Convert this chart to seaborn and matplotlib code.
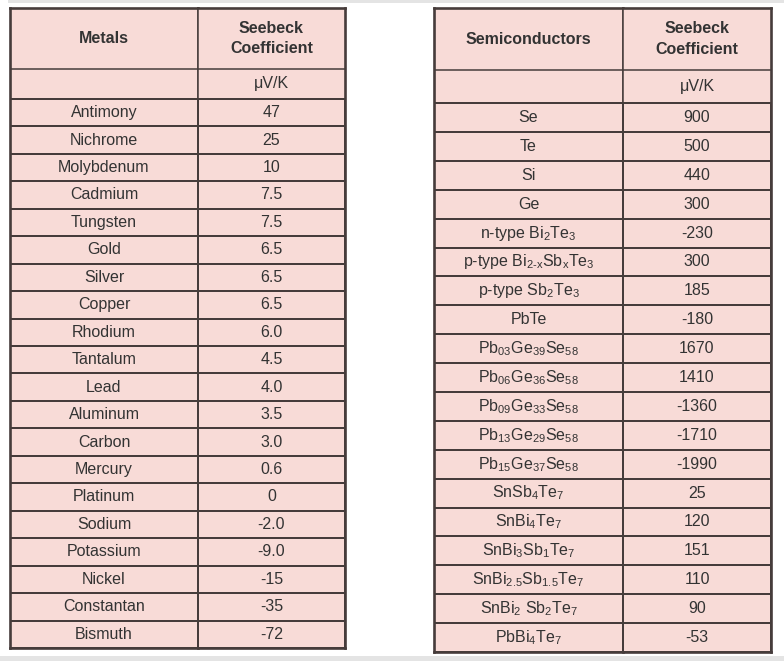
import numpy as np
import seaborn as sns
import matplotlib.pyplot as plt
from matplotlib.colors import ListedColormap
from matplotlib.patches import Rectangle

# table contents
metals = ["Antimony", "Nichrome", "Molybdenum", "Cadmium", "Tungsten", "Gold",
          "Silver", "Copper", "Rhodium", "Tantalum", "Lead", "Aluminum", "Carbon",
          "Mercury", "Platinum", "Sodium", "Potassium", "Nickel", "Constantan", "Bismuth"]
metal_seebeck = ["47", "25", "10", "7.5", "7.5", "6.5", "6.5", "6.5", "6.0", "4.5",
                 "4.0", "3.5", "3.0", "0.6", "0", "-2.0", "-9.0", "-15", "-35", "-72"]

semis = ["Se", "Te", "Si", "Ge",
         r"n-type Bi$_2$Te$_3$",
         r"p-type Bi$_{\mathrm{2\text{-}x}}$Sb$_{\mathrm{x}}$Te$_3$",
         r"p-type Sb$_2$Te$_3$",
         "PbTe",
         r"Pb$_{03}$Ge$_{39}$Se$_{58}$",
         r"Pb$_{06}$Ge$_{36}$Se$_{58}$",
         r"Pb$_{09}$Ge$_{33}$Se$_{58}$",
         r"Pb$_{13}$Ge$_{29}$Se$_{58}$",
         r"Pb$_{15}$Ge$_{37}$Se$_{58}$",
         r"SnSb$_4$Te$_7$",
         r"SnBi$_4$Te$_7$",
         r"SnBi$_3$Sb$_1$Te$_7$",
         r"SnBi$_{2.5}$Sb$_{1.5}$Te$_7$",
         r"SnBi$_2$ Sb$_2$Te$_7$",
         r"PbBi$_4$Te$_7$"]
semi_seebeck = ["900", "500", "440", "300", "-230", "300", "185", "-180", "1670",
                "1410", "-1360", "-1710", "-1990", "25", "120", "151", "110", "90", "-53"]

PINK = "#f8dbd7"
EDGE = "#463c3b"
TEXT = "#333333"

sns.set_theme(style="white")
plt.rcParams['font.family'] = ['Liberation Sans', 'DejaVu Sans']
plt.rcParams['mathtext.fontset'] = 'custom'
plt.rcParams['mathtext.rm'] = 'Liberation Sans'
plt.rcParams['mathtext.it'] = 'Liberation Sans:italic'
plt.rcParams['mathtext.bf'] = 'Liberation Sans:bold'

W, H = 784, 661
fig = plt.figure(figsize=(W / 100, H / 100), dpi=100)
fig.patch.set_facecolor("white")

# light grey bands at top and bottom of the picture
fig.patches.append(Rectangle((8 / W, 1 - 3 / H), 1, 3 / H, transform=fig.transFigure,
                             facecolor="#e4e4e4", edgecolor="none"))
fig.patches.append(Rectangle((0, 0), 1, 5 / H, transform=fig.transFigure,
                             facecolor="#e4e4e4", edgecolor="none"))


def draw_column(x0, x1, y0, y1, labels, head, unit, head_rows, unit_rows, side):
    ax = fig.add_axes([x0 / W, 1 - y1 / H, (x1 - x0) / W, (y1 - y0) / H])
    n = len(labels)
    sns.heatmap(np.zeros((n, 1)), ax=ax, cmap=ListedColormap([PINK]), cbar=False,
                annot=np.array(labels, dtype=object).reshape(-1, 1), fmt="",
                annot_kws=dict(size=11.5, color=TEXT),
                linewidths=1.1, linecolor=EDGE, xticklabels=False, yticklabels=False)
    top = head_rows + unit_rows
    ax.set_ylim(n, -top)
    ax.add_patch(Rectangle((0, -top), 1, top, facecolor=PINK, edgecolor="none", zorder=0))
    ax.axhline(-unit_rows, color=EDGE, lw=1.1)
    ax.axhline(0, color=EDGE, lw=1.1)
    ax.text(0.5, -unit_rows - head_rows / 2, head, ha="center", va="center",
            fontsize=11.5, fontweight="bold", color=TEXT, linespacing=1.45)
    ax.text(0.5, -unit_rows / 2, unit, ha="center", va="center", fontsize=11.5, color=TEXT)
    for name, s in ax.spines.items():
        s.set_visible(True)
        s.set_color(EDGE)
        s.set_linewidth(1.9)
    ax.spines["right" if side == "left" else "left"].set_linewidth(1.1)
    return ax


# metals table
draw_column(10, 198, 8, 648, metals, "Metals", "", 2.22, 1.09, "left")
draw_column(198, 345, 8, 648, metal_seebeck, "Seebeck\nCoefficient", "μV/K", 2.22, 1.09, "right")

# semiconductors table
draw_column(434, 623, 8, 652, semis, "Semiconductors", "", 2.15, 1.14, "left")
draw_column(623, 771, 8, 652, semi_seebeck, "Seebeck\nCoefficient", "μV/K", 2.15, 1.14, "right")

fig.savefig("out.png", dpi=100)
